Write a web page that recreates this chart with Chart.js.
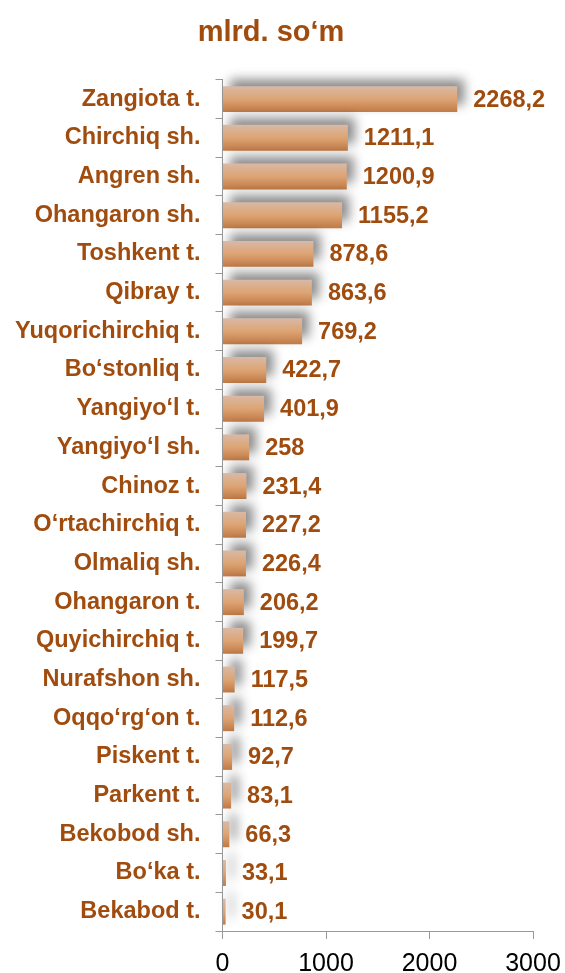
<!DOCTYPE html>
<html><head><meta charset="utf-8">
<script src="https://cdn.jsdelivr.net/npm/chart.js@4.4.1/dist/chart.umd.min.js"></script>
<style>html,body{margin:0;padding:0;background:#fff}#wrap{width:565px;height:973px;position:relative}</style>
</head><body>
<div id="wrap"><canvas id="c" width="565" height="973"></canvas></div>
<script>
const categories = ['Zangiota t.','Chirchiq sh.','Angren sh.','Ohangaron sh.','Toshkent t.','Qibray t.','Yuqorichirchiq t.','Bo‘stonliq t.','Yangiyo‘l t.','Yangiyo‘l sh.','Chinoz t.','O‘rtachirchiq t.','Olmaliq sh.','Ohangaron t.','Quyichirchiq t.','Nurafshon sh.','Oqqo‘rg‘on t.','Piskent t.','Parkent t.','Bekobod sh.','Bo‘ka t.','Bekabod t.'];
const values = [2268.2,1211.1,1200.9,1155.2,878.6,863.6,769.2,422.7,401.9,258,231.4,227.2,226.4,206.2,199.7,117.5,112.6,92.7,83.1,66.3,33.1,30.1];
const xTicks = [0,1000,2000,3000];
const titleText = 'mlrd. so‘m';

const BROWN = '#A04C0E';
const FONT = "'Liberation Sans', Arial, sans-serif";
const BAR_PCT = 0.67;
const fmt = v => String(v).replace('.', ',');

const shadowPlugin = {
  id: 'barShadow',
  beforeDatasetsDraw(chart) {
    const c = chart.ctx; c.save();
    c.shadowColor = 'rgba(0,0,0,0.45)';
    c.shadowBlur = 11; c.shadowOffsetX = 7; c.shadowOffsetY = -7;
  },
  afterDatasetsDraw(chart) { chart.ctx.restore(); }
};
const valueLabels = {
  id: 'valueLabels',
  afterDraw(chart) {
    const meta = chart.getDatasetMeta(0); const c = chart.ctx;
    c.save(); c.font = 'bold 23.5px ' + FONT; c.fillStyle = BROWN;
    c.textBaseline = 'middle'; c.textAlign = 'left';
    meta.data.forEach((el, i) => c.fillText(fmt(values[i]), el.x + 16, el.y + 1));
    c.restore();
  }
};
const titleShift = {
  id: 'titleShift',
  afterLayout(chart) { if (chart.titleBlock) { chart.titleBlock.left = 10; chart.titleBlock.right = 532; } }
};

new Chart(document.getElementById('c'), {
  type: 'bar',
  data: {
    labels: categories,
    datasets: [{
      data: values,
      clip: false,
      categoryPercentage: 1,
      barPercentage: BAR_PCT,
      borderWidth: 0,
      backgroundColor(ctx) {
        const chart = ctx.chart, y = chart.scales.y;
        if (!y || ctx.dataIndex === undefined || !chart.chartArea) return '#D9A070';
        const row = (y.bottom - y.top) / categories.length;
        const h = row * BAR_PCT, cy = y.getPixelForValue(ctx.dataIndex);
        const g = chart.ctx.createLinearGradient(0, cy - h / 2, 0, cy + h / 2);
        g.addColorStop(0, '#D9B9A6');
        g.addColorStop(0.5, '#DDA473');
        g.addColorStop(1, '#C07A46');
        return g;
      }
    }]
  },
  options: {
    indexAxis: 'y',
    responsive: false,
    animation: false,
    events: [],
    layout: { padding: { left: 10, right: 0, top: 0, bottom: 0 } },
    plugins: {
      legend: { display: false },
      tooltip: { enabled: false },
      title: {
        display: true, text: titleText, color: BROWN,
        font: { family: FONT, size: 29, weight: 'bold' },
        padding: { top: 16, bottom: 29 }
      }
    },
    scales: {
      x: {
        type: 'linear', min: 0, max: 3000,
        afterBuildTicks(s) { s.ticks = xTicks.map(v => ({ value: v })); },
        afterFit(s) { s.height = 42; s.paddingRight = 32; },
        grid: { drawOnChartArea: false, drawTicks: true, tickLength: 8, color: '#999' },
        border: { color: '#999', width: 1 },
        ticks: { color: '#000', font: { family: FONT, size: 25 }, padding: 10, callback: v => String(v) }
      },
      y: {
        afterFit(s) { s.width = 212.5; },
        grid: { offset: true, drawOnChartArea: false, tickLength: 7, color: '#999' },
        border: { color: '#999', width: 1 },
        ticks: { color: BROWN, font: { family: FONT, size: 23.5, weight: 'bold' }, padding: 15 }
      }
    }
  },
  plugins: [shadowPlugin, valueLabels, titleShift]
});
</script>
</body></html>
